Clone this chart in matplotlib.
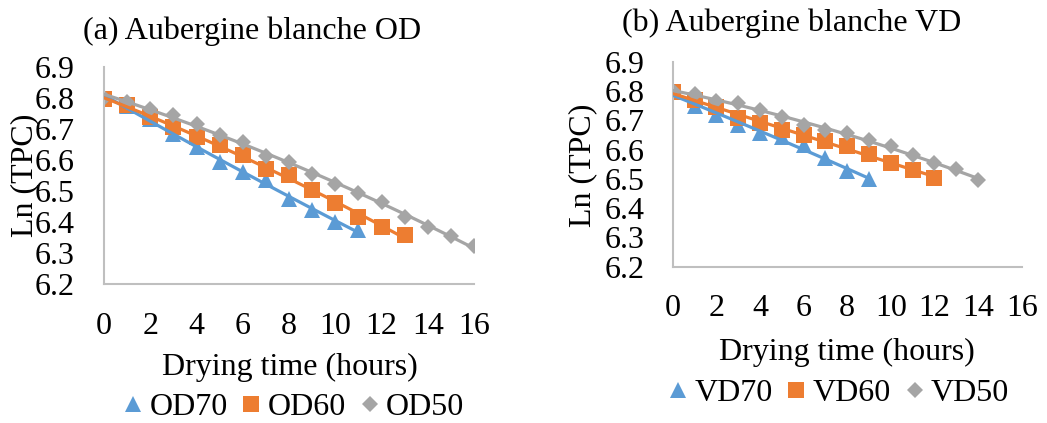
import numpy as np
import matplotlib
matplotlib.use("Agg")
from matplotlib import pyplot as plt

plt.rcParams["font.family"] = ["Liberation Serif", "DejaVu Serif"]

# Ln(TPC) readings per drying hour
od_hours_70 = list(range(12))
od_70 = [6.800, 6.773, 6.733, 6.685, 6.642, 6.594, 6.562, 6.535, 6.474, 6.438, 6.400, 6.374]
od_hours_60 = list(range(14))
od_60 = [6.798, 6.776, 6.739, 6.707, 6.674, 6.648, 6.615, 6.572, 6.551, 6.503, 6.460, 6.417, 6.384, 6.358]
od_hours_50 = list(range(17))
od_50 = [6.800, 6.787, 6.766, 6.746, 6.717, 6.680, 6.658, 6.612, 6.592, 6.556, 6.524, 6.494,
         6.465, 6.417, 6.384, 6.355, 6.323]

vd_hours_70 = list(range(10))
vd_70 = [6.798, 6.749, 6.718, 6.684, 6.655, 6.644, 6.615, 6.570, 6.528, 6.498]
vd_hours_60 = list(range(13))
vd_60 = [6.798, 6.769, 6.746, 6.707, 6.692, 6.667, 6.650, 6.630, 6.612, 6.584, 6.553, 6.530, 6.502]
vd_hours_50 = list(range(15))
vd_50 = [6.800, 6.790, 6.767, 6.758, 6.735, 6.712, 6.684, 6.667, 6.655, 6.633, 6.612, 6.581,
         6.553, 6.532, 6.496]

x_ticks = list(range(0, 17, 2))
y_ticks = [6.2, 6.3, 6.4, 6.5, 6.6, 6.7, 6.8, 6.9]

BLUE = "#5B9BD5"
ORANGE = "#ED7D31"
GRAY = "#A5A5A5"
AXIS = "#BFBFBF"
FS = 23

W, H = 1047, 423
fig = plt.figure(figsize=(W / 100, H / 100), dpi=100)


def px_axes(x0, y0, x1, y1):
    return fig.add_axes([x0 / W, 1 - y1 / H, (x1 - x0) / W, (y1 - y0) / H])


def draw_panel(ax, series, xpad, ypad):
    handles = []
    for hours, vals, color, marker, ms, label in series:
        (h,) = ax.plot(hours, vals, linestyle="none", marker=marker, markersize=ms,
                       color=color, markeredgewidth=0, zorder=2, label=label)
        # second order trendline through the readings
        coef = np.polyfit(hours, vals, 2)
        xs = np.linspace(hours[0], hours[-1], 100)
        ax.plot(xs, np.polyval(coef, xs), color=color, lw=2.3, zorder=3)
        handles.append(h)
    ax.set_xlim(0, 16)
    ax.set_ylim(6.2, 6.9)
    ax.set_xticks(x_ticks)
    ax.set_yticks(y_ticks)
    ax.set_yticklabels([f"{v:.1f}" for v in y_ticks])
    for s in ["top", "right"]:
        ax.spines[s].set_visible(False)
    for s in ["left", "bottom"]:
        ax.spines[s].set_color(AXIS)
        ax.spines[s].set_linewidth(1.5)
    ax.tick_params(axis="x", length=0, pad=xpad, labelsize=FS)
    ax.tick_params(axis="y", length=0, pad=ypad, labelsize=FS)
    ax.patch.set_visible(False)
    return handles


ax1 = px_axes(104, 67, 474, 284)
h1 = draw_panel(ax1, [
    (od_hours_70, od_70, BLUE, "^", 12, "OD70"),
    (od_hours_60, od_60, ORANGE, "s", 11, "OD60"),
    (od_hours_50, od_50, GRAY, "D", 8.5, "OD50"),
], xpad=20, ypad=21)

ax2 = px_axes(672.7, 61.7, 1021.7, 266.7)
h2 = draw_panel(ax2, [
    (vd_hours_70, vd_70, BLUE, "^", 12, "VD70"),
    (vd_hours_60, vd_60, ORANGE, "s", 11, "VD60"),
    (vd_hours_50, vd_50, GRAY, "D", 8.5, "VD50"),
], xpad=20, ypad=20)

fig.text(252 / W, 1 - 31 / H, "(a) Aubergine blanche OD", ha="center", va="center", fontsize=FS)
fig.text(792 / W, 1 - 23 / H, "(b) Aubergine blanche VD", ha="center", va="center", fontsize=FS)
fig.text(290 / W, 1 - 367 / H, "Drying time (hours)", ha="center", va="center", fontsize=FS)
fig.text(847 / W, 1 - 352 / H, "Drying time (hours)", ha="center", va="center", fontsize=FS)
fig.text(25 / W, 1 - 175 / H, "Ln (TPC)", ha="center", va="center", rotation=90, fontsize=FS)
fig.text(583 / W, 1 - 165 / H, "Ln (TPC)", ha="center", va="center", rotation=90, fontsize=FS)

fig.legend(handles=h1, loc="center", bbox_to_anchor=(293 / W, 1 - 407 / H), ncol=3,
           frameon=False, fontsize=FS, handlelength=0.7, handletextpad=0.15,
           columnspacing=0.4, borderpad=0)
fig.legend(handles=h2, loc="center", bbox_to_anchor=(838 / W, 1 - 393 / H), ncol=3,
           frameon=False, fontsize=FS, handlelength=0.7, handletextpad=0.15,
           columnspacing=0.4, borderpad=0)

fig.savefig("out.png", dpi=100)
